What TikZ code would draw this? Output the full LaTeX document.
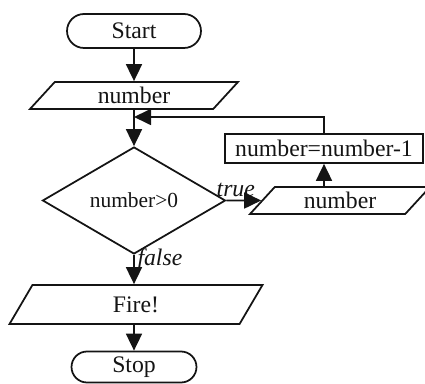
\documentclass[tikz,border=0pt]{standalone}
\usepackage{fontspec}
\setmainfont{Liberation Serif}
\usetikzlibrary{arrows.meta, shapes.geometric}
\definecolor{inkc}{RGB}{20,20,20}

\begin{document}
\begin{tikzpicture}[x=0.02cm, y=-0.02cm, >={Triangle[length=0.34cm, width=0.32cm]},
    line width=1pt, draw=inkc, text=inkc, font=\fontsize{13.5}{16}\selectfont,
    term/.style={draw, rectangle, inner sep=0pt},
    io/.style={draw, trapezium, trapezium left angle=34, trapezium right angle=146,
      trapezium stretches body, inner sep=0pt, minimum height=0.54cm},
    proc/.style={draw, rectangle, inner sep=0pt, minimum width=3.96cm, minimum height=0.58cm},
    test/.style={draw, diamond, inner sep=0pt, minimum width=3.66cm, minimum height=2.14cm,
      font=\fontsize{12.2}{14}\selectfont},
    lbl/.style={inner sep=1.5pt, font=\fontsize{13.5}{16}\selectfont\itshape}]
  \useasboundingbox (0,0) rectangle (425,384);

  % main column
  \node[term, rounded corners=0.34cm, minimum width=2.68cm, minimum height=0.68cm] (start) at (134,31) {Start};
  \node[io, minimum width=4.16cm] (num1) at (134,95.5) {number};
  \node[test] (dec) at (134,200.5) {number>0};
  \node[io, minimum width=5.06cm, minimum height=0.78cm, trapezium left angle=35, trapezium right angle=145] (fire) at (136,304.5) {Fire!};
  \node[term, rounded corners=0.31cm, minimum width=2.5cm, minimum height=0.62cm] (stop) at (134,367) {Stop};

  % loop branch
  \node[io, minimum width=3.6cm] (num2) at (340,200.5) {number};
  \node[proc] (rect) at (324,148.5) {number=number-1};
  \coordinate (merge) at (134,117);

  % connectors
  \draw[->] (start) -- (num1);
  \draw[->] (num1) -- (dec);
  \draw[->] (dec) -- node[lbl, right, pos=0.17] {false} (dec.south |- fire.north);
  \draw[->] (dec.south |- fire.south) -- (stop);
  \draw[->] (dec) -- node[lbl, above, pos=0.27] {true} (num2);
  \draw[->] (num2.north -| rect) -- (rect);
  \draw[->] (rect) |- (merge);
\end{tikzpicture}
\end{document}
